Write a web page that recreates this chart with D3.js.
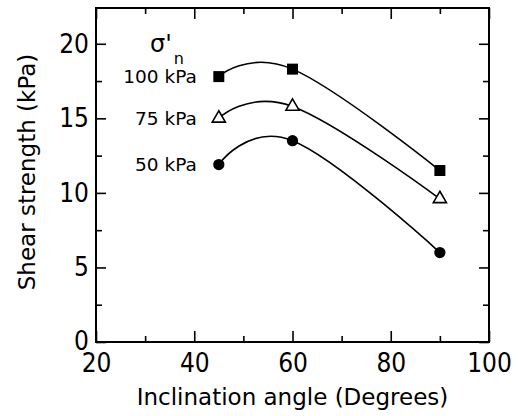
<!DOCTYPE html>
<html>
<head>
<meta charset="utf-8">
<script src="https://cdn.jsdelivr.net/npm/d3@7"></script>
<style>
  body { margin: 0; background: #fff; }
  text { font-family: "DejaVu Sans", Verdana, sans-serif; fill: #000; }
  .tick text { font-family: "DejaVu Sans Condensed", "DejaVu Sans", sans-serif; font-stretch: condensed; }
</style>
</head>
<body>
<div id="chart"></div>
<script>
// data
const angles = [45, 60, 90];
const series = [
  { name: "100 kPa", marker: "square",   values: [17.8, 18.3, 11.5] },
  { name: "75 kPa",  marker: "triangle", values: [15.0, 15.8, 9.6] },
  { name: "50 kPa",  marker: "circle",   values: [11.9, 13.5, 6.0] }
];
const xTicks = [20, 40, 60, 80, 100];
const yTicks = [0, 5, 10, 15, 20];

let W = 518, H = 416;
let margin = { top: 8, left: 96, right: 29, bottom: 74 },
  width = W - margin.left - margin.right,
  height = H - margin.top - margin.bottom;

let svg = d3.select('#chart')
  .append('svg')
  .attr('width', W)
  .attr('height', H);

let g = svg.append('g')
  .attr('transform', `translate(${margin.left},${margin.top})`);

const x = d3.scaleLinear().domain([20, 100]).range([0, width]);
const y = d3.scaleLinear().domain([0, 22.4]).range([height, 0]);

// minor ticks on all four sides (pointing inward)
const xMinor = d3.range(30, 100, 20);
const yMinor = d3.range(2.5, 22.4, 5);

function styleAxis(sel) {
  sel.select('.domain').remove();
  sel.selectAll('.tick line').attr('stroke', '#000').attr('stroke-width', 1.6);
}

g.append('g').attr('transform', `translate(0,${height})`)
  .call(d3.axisBottom(x).tickValues(xMinor).tickSize(-6).tickFormat(''))
  .call(styleAxis);
g.append('g')
  .call(d3.axisTop(x).tickValues(xMinor).tickSize(-6).tickFormat(''))
  .call(styleAxis);
g.append('g')
  .call(d3.axisLeft(y).tickValues(yMinor).tickSize(-6).tickFormat(''))
  .call(styleAxis);
g.append('g').attr('transform', `translate(${width},0)`)
  .call(d3.axisRight(y).tickValues(yMinor).tickSize(-6).tickFormat(''))
  .call(styleAxis);

// major ticks
g.append('g').attr('transform', `translate(0,${height})`)
  .call(d3.axisBottom(x).tickValues(xTicks).tickSize(-11).tickPadding(10).tickFormat(d3.format('d')))
  .call(styleAxis)
  .call(a => a.selectAll('.tick text').attr('y', 30).attr('dy', null).style('font-size', '26px'));
g.append('g')
  .call(d3.axisTop(x).tickValues(xTicks).tickSize(-11).tickFormat(''))
  .call(styleAxis);
g.append('g')
  .call(d3.axisLeft(y).tickValues(yTicks).tickSize(-10).tickFormat(d3.format('d')))
  .call(styleAxis)
  .call(a => a.selectAll('.tick text').attr('x', -7).style('font-size', '26px'))
  .call(a => a.selectAll('.tick').filter(d => d === 0).select('text').attr('dy', '0.3em'));
g.append('g').attr('transform', `translate(${width},0)`)
  .call(d3.axisRight(y).tickValues(yTicks).tickSize(-10).tickFormat(''))
  .call(styleAxis);

// frame
g.append('rect')
  .attr('width', width)
  .attr('height', height)
  .attr('fill', 'none')
  .attr('stroke', '#000')
  .attr('stroke-width', 2);

// curves
const line = d3.line()
  .x((d, i) => x(angles[i]))
  .y(d => y(d))
  .curve(d3.curveCardinal.tension(-0.2));

g.selectAll('.curve')
  .data(series)
  .join('path')
  .attr('class', 'curve')
  .attr('fill', 'none')
  .attr('stroke', '#000')
  .attr('stroke-width', 1.6)
  .attr('d', d => line(d.values));

// markers
const sym = {
  square: d3.symbol().type(d3.symbolSquare).size(121),
  triangle: d3.symbol().type(d3.symbolTriangle).size(75),
  circle: d3.symbol().type(d3.symbolCircle).size(100)
};

series.forEach(s => {
  g.selectAll(null)
    .data(s.values)
    .join('path')
    .attr('transform', (d, i) => `translate(${x(angles[i])},${y(d)})`)
    .attr('d', sym[s.marker]())
    .attr('fill', s.marker === 'triangle' ? '#fff' : '#000')
    .attr('stroke', '#000')
    .attr('stroke-width', s.marker === 'triangle' ? 1.6 : 0);

  // series label
  g.append('text')
    .attr('x', x(angles[0]) - 22)
    .attr('y', y(s.values[0]))
    .attr('dy', '0.36em')
    .attr('text-anchor', 'end')
    .style('font-size', '18.5px')
    .text(s.name);
});

// sigma'n heading
let sig = g.append('text')
  .attr('x', 150 - margin.left)
  .attr('y', 52 - margin.top)
  .style('font-size', '24px');
sig.append('tspan').text("σ'");
sig.append('tspan').attr('dy', 12).attr('dx', 2).style('font-size', '16px').text('n');

// axis titles
svg.append('text')
  .attr('x', margin.left + width / 2)
  .attr('y', 405)
  .attr('text-anchor', 'middle')
  .style('font-size', '23px')
  .text('Inclination angle (Degrees)');

svg.append('text')
  .attr('transform', 'translate(35,172) rotate(-90)')
  .attr('text-anchor', 'middle')
  .style('font-size', '23px')
  .text('Shear strength (kPa)');
</script>
</body>
</html>
